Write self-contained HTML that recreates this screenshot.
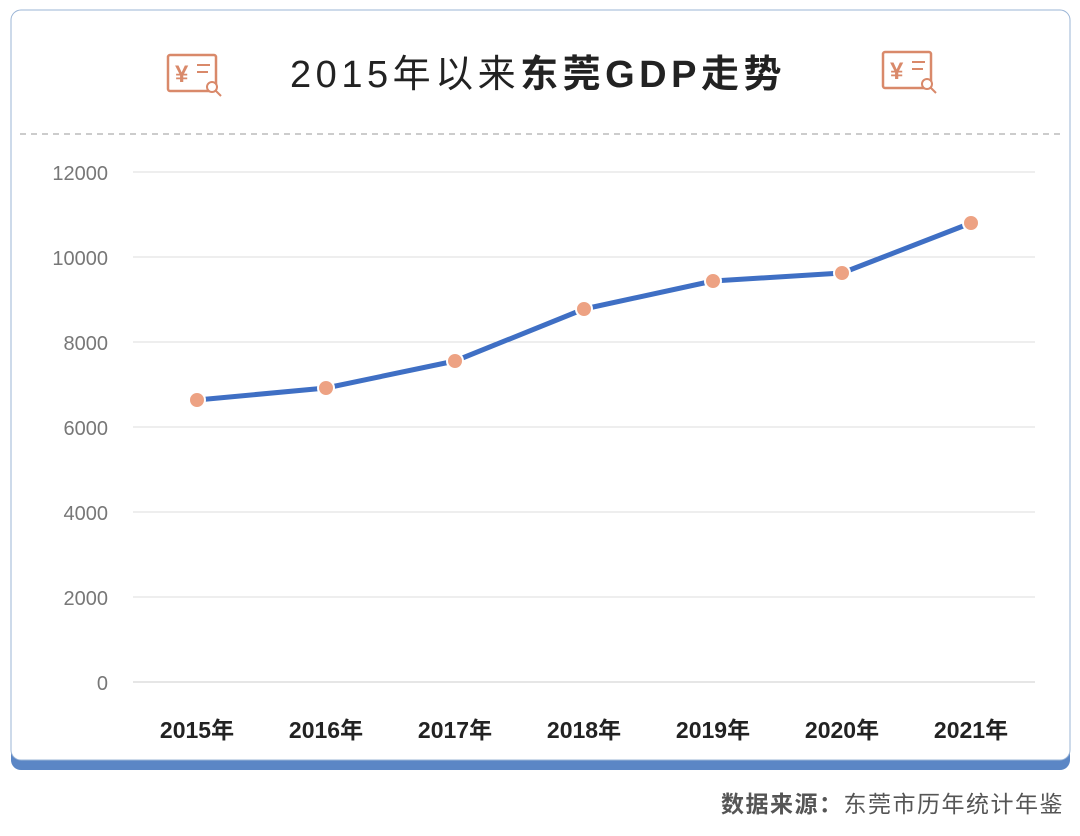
<!DOCTYPE html>
<html><head><meta charset="utf-8"><style>
body{margin:0;width:1080px;height:836px;background:#fff;overflow:hidden;font-family:"Liberation Sans","Noto Sans CJK SC",sans-serif;}
</style></head><body>
<svg width="1080" height="836" xmlns="http://www.w3.org/2000/svg" style="position:absolute;left:0;top:0">
<rect x="11" y="14" width="1059" height="756" rx="10" fill="#5b86c5"/>
<rect x="11" y="10" width="1059" height="750" rx="10" fill="#fff" stroke="#9bb5d6" stroke-width="1"/>
<line x1="20" y1="134" x2="1060" y2="134" stroke="#999" stroke-dasharray="6,5" stroke-width="1"/>
<g fill="none" stroke="#d9896a" stroke-width="2.5">
<rect x="168" y="55" width="48" height="36" rx="2"/>
<rect x="883" y="52" width="48" height="36" rx="2"/>
</g>
<g fill="#d9896a" font-size="24" font-weight="bold">
<text x="175" y="82">¥</text><text x="890" y="79">¥</text>
</g>
<g fill="none" stroke="#d9896a" stroke-width="2">
<line x1="197" y1="65" x2="210" y2="65"/><line x1="197" y1="72" x2="208" y2="72"/>
<circle cx="212" cy="87" r="5" fill="#fff"/><line x1="216" y1="91" x2="221" y2="96"/>
<line x1="912" y1="62" x2="925" y2="62"/><line x1="912" y1="69" x2="923" y2="69"/>
<circle cx="927" cy="84" r="5" fill="#fff"/><line x1="931" y1="88" x2="936" y2="93"/>
</g>
<text x="538" y="87" text-anchor="middle" font-size="38" fill="#222" letter-spacing="4.5">2015年以来<tspan font-weight="bold">东莞GDP走势</tspan></text>
<g stroke="#ddd" stroke-width="1">
<line x1="133" y1="172" x2="1035" y2="172"/><line x1="133" y1="257" x2="1035" y2="257"/>
<line x1="133" y1="342" x2="1035" y2="342"/><line x1="133" y1="427" x2="1035" y2="427"/>
<line x1="133" y1="512" x2="1035" y2="512"/><line x1="133" y1="597" x2="1035" y2="597"/>
<line x1="133" y1="682" x2="1035" y2="682" stroke="#ccc"/>
</g>
<g font-size="20" fill="#777" text-anchor="end">
<text x="108" y="180">12000</text><text x="108" y="265">10000</text><text x="108" y="350">8000</text>
<text x="108" y="435">6000</text><text x="108" y="520">4000</text><text x="108" y="605">2000</text><text x="108" y="690">0</text>
</g>
<g font-size="23" fill="#222" font-weight="bold" text-anchor="middle">
<text x="197" y="738">2015年</text><text x="326" y="738">2016年</text><text x="455" y="738">2017年</text>
<text x="584" y="738">2018年</text><text x="713" y="738">2019年</text><text x="842" y="738">2020年</text><text x="971" y="738">2021年</text>
</g>
<polyline points="197,400 326,388 455,361 584,309 713,281 842,273 971,223" fill="none" stroke="#3f6fc4" stroke-width="5" stroke-linejoin="round"/>
<g fill="#eda283" stroke="#fff" stroke-width="2">
<circle cx="197" cy="400" r="8"/><circle cx="326" cy="388" r="8"/><circle cx="455" cy="361" r="8"/>
<circle cx="584" cy="309" r="8"/><circle cx="713" cy="281" r="8"/><circle cx="842" cy="273" r="8"/><circle cx="971" cy="223" r="8"/>
</g>
<text x="1064" y="812" text-anchor="end" font-size="23" fill="#555" letter-spacing="1.5"><tspan font-weight="bold">数据来源：</tspan>东莞市历年统计年鉴</text>
</svg>
</body></html>
